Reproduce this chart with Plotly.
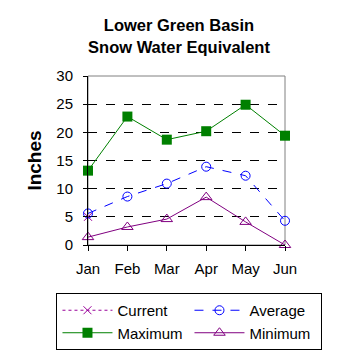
import plotly.graph_objects as go

months = ["Jan", "Feb", "Mar", "Apr", "May", "Jun"]
current = [5.0, None, None, None, None, None]
average = [5.6, 8.6, 10.9, 13.9, 12.3, 4.3]
maximum = [13.2, 22.8, 18.7, 20.2, 24.9, 19.4]
minimum = [1.4, 3.2, 4.6, 8.5, 4.1, 0.0]
yticks = [0, 5, 10, 15, 20, 25, 30]

FONT = "Liberation Sans, Arial, sans-serif"

fig = go.Figure()
fig.add_trace(go.Scatter(x=months, y=current, name="Current", mode="lines+markers", cliponaxis=False,
                         line=dict(color="#990099", width=1, dash="dot"),
                         marker=dict(symbol="x-thin", size=8, line=dict(color="#990099", width=1))))
fig.add_trace(go.Scatter(x=months, y=average, name="Average", mode="lines+markers", cliponaxis=False,
                         line=dict(color="#0000ff", width=1, dash="dash"),
                         marker=dict(symbol="circle-open", size=9, color="#0000ff", line=dict(width=1))))
fig.add_trace(go.Scatter(x=months, y=maximum, name="Maximum", mode="lines+markers", cliponaxis=False,
                         line=dict(color="#008000", width=1),
                         marker=dict(symbol="square", size=10, color="#008000")))
fig.add_trace(go.Scatter(x=months, y=minimum, name="Minimum", mode="lines+markers", cliponaxis=False,
                         line=dict(color="#800080", width=1),
                         marker=dict(symbol="triangle-up-open", size=10, color="#800080", line=dict(width=1))))

fig.update_layout(
    width=358, height=358,
    margin=dict(l=88, r=73, t=76, b=113, autoexpand=False),
    paper_bgcolor="white", plot_bgcolor="white",
    font=dict(family=FONT, size=15, color="black"),
    title=dict(text="<b>Lower Green Basin<br>Snow Water Equivalent</b>",
               x=0.5, xanchor="center", y=0.913, yanchor="middle",
               font=dict(size=16.5, family=FONT)),
    showlegend=True,
    legend=dict(orientation="h", x=-0.16, xanchor="left", y=-0.284, yanchor="top",
                entrywidth=67, entrywidthmode="pixels",
                bordercolor="black", borderwidth=1, bgcolor="white",
                font=dict(size=15, family=FONT), tracegroupgap=0, itemwidth=50),
)
fig.update_xaxes(type="category", range=[0, 5], showline=True, linecolor="black", linewidth=1,
                 mirror=False, ticks="outside", ticklen=5, tickcolor="black", automargin=False,
                 showgrid=False, zeroline=False, tickfont=dict(size=15), ticklabelstandoff=5)
fig.update_yaxes(range=[0, 30], tickvals=yticks, showline=True, linecolor="black", linewidth=1,
                 ticks="outside", ticklen=4, tickcolor="black",
                 showgrid=True, gridcolor="black", griddash="dash", gridwidth=1,
                 zeroline=False, tickfont=dict(size=15), ticklabelstandoff=7, automargin=False,
                 title=dict(text="<b>Inches</b>", font=dict(size=19), standoff=9))
# gray top/right border
fig.add_shape(type="rect", xref="paper", yref="paper", x0=0, y0=0, x1=1, y1=1,
              line=dict(color="#808080", width=1), layer="below")
fig.write_html("out.html", config={"displayModeBar": False},
               post_script="document.body.style.margin='0';")
